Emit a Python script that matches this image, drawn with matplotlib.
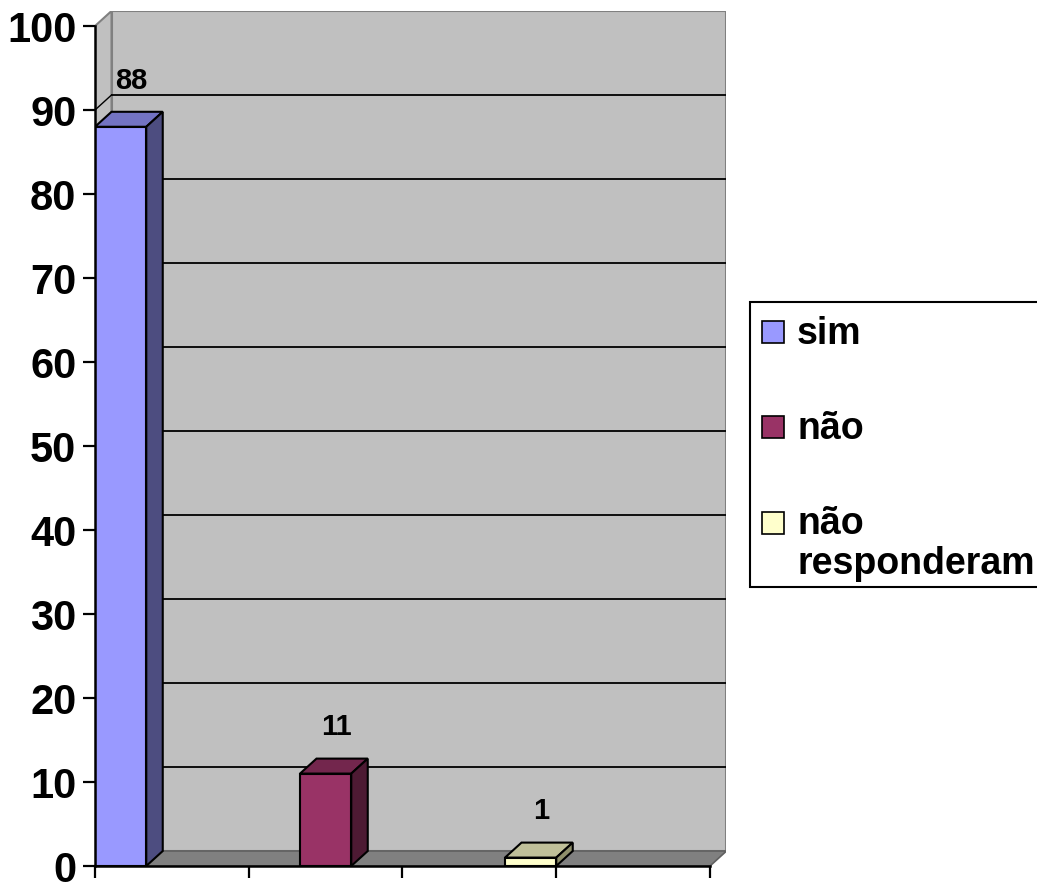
import matplotlib
matplotlib.use('Agg')
import matplotlib.pyplot as plt
from matplotlib.patches import Polygon, Rectangle

plt.rcParams['font.family'] = ['Liberation Sans', 'DejaVu Sans']
plt.rcParams['font.weight'] = 'bold'

# dados
categorias = ['sim', 'não', 'não\nresponderam']
valores = [88, 11, 1]
cor_frente = ['#9999FF', '#993366', '#FFFFCC']
cor_topo = ['#7373C3', '#73264D', '#C0C099']
cor_lado = ['#4D4D80', '#4D1A33', '#8F8F6B']
y_ticks = list(range(0, 101, 10))

W, H = 1037, 885
fig = plt.figure(figsize=(W / 100, H / 100), dpi=100)

# profundidade do "3D" (unidades de dados)
px_x = 153.75   # pixels por unidade x
px_y = 8.4      # pixels por unidade y
DX = 16.5 / px_x
DY = 15 / px_y
xmax = 4

left, bottom = 95, 866
ax = fig.add_axes([left / W, (H - bottom) / H,
                   (xmax + DX) * px_x / W, (100 + DY) * px_y / H])
ax.set_xlim(0, xmax + DX)
ax.set_ylim(0, 100 + DY)
ax.patch.set_visible(False)

# parede do fundo, parede lateral e chao
ax.add_patch(Polygon([(DX, DY), (xmax + DX, DY), (xmax + DX, 100 + DY), (DX, 100 + DY)],
                     closed=True, facecolor='#C0C0C0', edgecolor='#808080', lw=1.5, zorder=1))
ax.add_patch(Polygon([(0, 0), (DX, DY), (DX, 100 + DY), (0, 100)],
                     closed=True, facecolor='#C0C0C0', edgecolor='#808080', lw=1.5, zorder=1))
ax.add_patch(Polygon([(0, 0), (xmax, 0), (xmax + DX, DY), (DX, DY)],
                     closed=True, facecolor='#808080', edgecolor='#606060', lw=1.2, zorder=1))

# linhas de grade
for t in y_ticks[1:-1]:
    ax.plot([DX, xmax + DX], [t + DY, t + DY], color='black', lw=1.3, zorder=2)
    ax.plot([0, DX], [t, t + DY], color='black', lw=1.0, zorder=2)

# barras
larg = 1 / 3
xs = [i * 4 / 3 for i in range(len(valores))]
ax.bar(xs, valores, width=larg, align='edge', color=cor_frente,
       edgecolor='black', lw=1.5, zorder=5)
for x0, v, ct, cl in zip(xs, valores, cor_topo, cor_lado):
    ax.add_patch(Polygon([(x0, v), (x0 + larg, v), (x0 + larg + DX, v + DY), (x0 + DX, v + DY)],
                         closed=True, facecolor=ct, edgecolor='black', lw=1.5, zorder=4))
    ax.add_patch(Polygon([(x0 + larg, 0), (x0 + larg + DX, DY), (x0 + larg + DX, v + DY), (x0 + larg, v)],
                         closed=True, facecolor=cl, edgecolor='black', lw=1.5, zorder=4))
    ax.text(x0 + larg / 2 + 0.07, v + 5.5, str(v), ha='center', va='center',
            fontsize=21, fontweight='bold', zorder=6)

# eixos
for s in ['top', 'right']:
    ax.spines[s].set_visible(False)
ax.spines['left'].set_bounds(0, 100)
ax.spines['bottom'].set_bounds(0, xmax)
ax.spines['left'].set_linewidth(1.8)
ax.spines['bottom'].set_linewidth(1.8)
ax.spines['left'].set_zorder(7)
ax.spines['bottom'].set_zorder(7)
ax.set_yticks(y_ticks)
ax.set_yticklabels([str(t) for t in y_ticks], fontsize=30, fontweight='bold')
ax.set_xticks(range(xmax + 1))
ax.set_xticklabels([])
ax.tick_params(axis='both', direction='out', length=8.5, width=1.6, pad=5)

# legenda
def fx(p):
    return p / W

def fy(p):
    return 1 - p / H

fig.add_artist(Rectangle((fx(750), fy(587)), fx(1050) - fx(750), fy(302) - fy(587),
                         transform=fig.transFigure, facecolor='white',
                         edgecolor='black', lw=1.5))
for i, (lab, c) in enumerate(zip(categorias, cor_frente)):
    yc = 332 + i * 95.25
    fig.add_artist(Rectangle((fx(762), fy(yc + 11)), fx(22), 22 / H,
                             transform=fig.transFigure, facecolor=c,
                             edgecolor='black', lw=1.2))
    for k, linha in enumerate(lab.split('\n')):
        fig.text(fx(797), fy(yc + 12 + k * 40), linha, ha='left', va='baseline',
                 fontsize=27, fontweight='bold')

fig.savefig('out.png', dpi=100)
